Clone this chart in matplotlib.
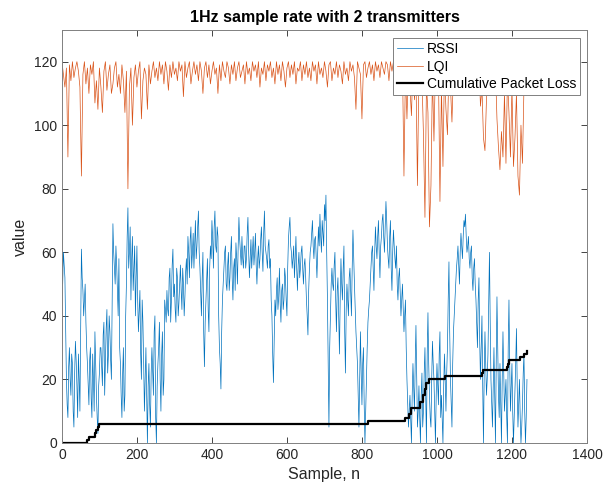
import numpy as np
import matplotlib.pyplot as plt

plt.rcParams['font.family'] = ['Liberation Sans', 'DejaVu Sans']

# RSSI: values at n = 0, 4, 8, ... 1240
rssi = [58, 60, 52,
        20, 8, 30, 15, 25, 5, 32, 18, 28, 10,
        61, 48, 45, 38,
        25, 12, 30, 8, 20, 35, 15, 3, 22,
        30, 18, 38, 25, 42, 28, 35, 20,
        69, 55, 62, 48, 58,
        25, 8, 30, 15,
        50, 74, 60, 45, 65, 55, 40, 62,
        35, 48, 20, 38, 10, 30, 0, 25, 5,
        30, 15, 40, 0, 25, 38, 10, 35, 20, 42,
        48, 40, 55, 45, 61, 50, 38, 52, 44, 56, 42, 50, 46,
        58, 65, 52, 68, 60, 55, 70, 62, 73,
        55, 40, 60, 24, 45, 58, 35,
        62, 70, 55, 73, 60, 65,
        30, 17, 45,
        55, 62, 48, 60, 52, 65, 45, 58, 63, 50, 71,
        60, 65, 55, 62, 58, 71, 52, 64, 60, 56, 66, 50, 62, 58, 68, 54, 73, 60, 55, 64, 58,
        40, 19, 45,
        48, 42, 55, 38, 50, 45, 52, 40,
        64, 71, 60,
        58, 52, 65, 48, 60, 55, 62, 50, 58, 45, 34,
        55, 62, 70, 58, 65, 52, 68, 72, 60, 66, 75, 78,
        45, 5, 40,
        55, 48, 60, 35, 52, 28, 58, 45, 62, 22, 50, 40, 55,
        40, 67, 50, 35,
        25, 5, 35, 12, 30, 0, 20, 38,
        45, 55, 62, 48, 68, 58, 70, 52, 65, 72, 60, 76, 62, 55, 70, 48, 67, 58, 62, 45, 55, 40, 50, 35, 45,
        20, 5, 15, 0, 25, 10, 37, 5, 18, 0, 22,
        10, 30, 0, 41, 15, 5, 32, 20, 0, 25, 12, 35,
        15, 0, 28, 10, 30, 57, 20, 5, 35, 45,
        55, 62, 50, 66, 58, 70, 72, 60, 65, 55, 62, 48, 58,
        45, 30, 52, 20, 40, 0, 35, 15, 28, 60,
        20, 5, 30, 0, 46, 15, 25, 0, 35, 10, 20, 0,
        45, 10, 25, 0, 15, 36, 5, 20, 0, 12, 28, 0, 20]

# RSSI at the samples in between: n = 2, 6, 10, ... 1238
rssi_mid = [50, 56, 35,
            12, 24, 20, 28, 10, 22, 26, 8, 20, 35,
            52, 40, 50, 30,
            18, 26, 14, 28, 10, 25, 8, 18, 30,
            24, 34, 15, 36, 22, 40, 26, 45,
            60, 50, 56, 40, 30,
            15, 22, 10, 40,
            65, 55, 68, 58, 48, 62, 52, 45,
            42, 28, 45, 25, 20, 15, 18, 12, 22,
            22, 35, 8, 18, 30, 20, 28, 15, 45, 38,
            42, 52, 38, 56, 46, 42, 55, 40, 50, 48, 55, 40, 54,
            50, 60, 64, 55, 66, 62, 58, 68, 60,
            48, 52, 35, 38, 52, 42, 55,
            58, 64, 68, 62, 68, 40,
            25, 35, 50,
            60, 50, 56, 48, 60, 52, 55, 48, 58, 62, 64,
            56, 58, 62, 55, 66, 60, 58, 55, 65, 60, 56, 58, 55, 64, 60, 66, 62, 58, 62, 55, 45,
            28, 32, 40,
            52, 46, 44, 48, 42, 55, 45, 55,
            68, 62, 55,
            62, 58, 55, 56, 52, 60, 55, 56, 52, 40, 48,
            60, 66, 62, 64, 58, 60, 62, 65, 70, 62, 70, 60,
            25, 30, 50,
            50, 56, 45, 48, 40, 45, 50, 55, 35, 42, 45, 52, 48,
            55, 58, 42, 30,
            15, 20, 22, 25, 12, 10, 30, 42,
            50, 60, 55, 60, 62, 65, 60, 62, 70, 65, 68, 70, 58, 65, 55, 60, 62, 55, 50, 52, 48, 45, 42, 40, 30,
            12, 10, 8, 15, 18, 25, 20, 10, 8, 15, 5,
            22, 15, 28, 25, 8, 20, 25, 10, 15, 18, 28, 8,
            8, 18, 20, 22, 45, 35, 12, 25, 40, 50,
            58, 56, 60, 62, 65, 68, 65, 62, 58, 60, 52, 55, 50,
            38, 45, 32, 30, 18, 22, 25, 20, 45, 38,
            12, 18, 15, 25, 30, 8, 12, 20, 22, 15, 8, 30,
            25, 18, 10, 8, 25, 18, 12, 8, 5, 22, 10, 8]

# LQI, one value every 4 samples
lqi_step = 4
lqi = [120, 116, 112, 118, 90, 119, 114, 120, 115, 118,
       120, 117, 112, 84, 116, 120, 113, 118, 110, 119,
       116, 120, 107, 114, 105, 118, 112, 104, 117, 120,
       111, 116, 119, 110, 113, 118, 120, 112, 116, 110,
       119, 114, 104, 117, 80, 112, 118, 100, 115, 119,
       112, 117, 120, 102, 114, 118, 116, 105, 119, 113,
       117, 120, 115,
       118, 114, 120, 116, 119, 113, 120, 117, 111, 119, 115, 120, 116, 118, 114, 120, 117, 119, 109, 120, 115, 118, 120, 113, 117,
       120, 116, 119, 114, 120, 117, 110, 118, 120, 115, 119, 113, 117, 120, 116, 118, 110, 119, 114, 120, 117, 115, 120, 118, 113,
       119, 116, 120, 114, 118, 120, 115, 117, 119, 113, 120, 116, 118, 114, 120, 117, 119, 115, 120, 112, 118, 116, 120, 114, 119,
       117, 120, 115, 118, 113, 120, 116, 119, 114, 120, 117, 112, 118, 120, 115, 119, 116, 120, 113, 118, 117, 120, 114, 119, 116,
       120, 115, 118, 114, 120, 117, 119, 113, 120, 116, 118, 115, 120, 117, 112, 119, 120, 114, 118, 116, 120, 115, 119, 117, 113,
       120, 116, 118, 114, 120, 117, 119, 115, 105, 120, 118, 116, 102, 119, 120, 115, 118, 120, 116, 119, 114, 120, 117, 119, 115,
       120, 118, 116, 120, 119, 114, 120, 117, 120, 115, 119, 120,
       118, 114, 120, 84, 117, 102, 119, 112, 103, 120,
       108, 116, 81, 118, 110, 115, 97, 71, 113, 104,
       68, 81, 116, 95, 119, 110, 117, 76, 112, 87,
       118, 105, 97, 119, 112, 101, 117, 120, 115, 120,
       118, 114, 120, 117, 120, 116, 120, 119, 113, 120,
       117, 120, 115, 120, 106, 112, 96, 92, 108, 118,
       120, 116, 120, 112, 118, 102, 93, 86, 98, 90,
       110, 88, 115, 104, 90, 112, 87, 96, 110, 84,
       78, 100, 88, 112, 118, 120]

# cumulative packet loss: sample where the count changes, and the new count
loss_n = [0, 68, 72, 88, 92, 96, 100, 817, 914, 925, 932, 955, 963, 968, 972, 978,
          1021, 1119, 1122, 1186, 1189, 1192, 1221, 1232, 1240]
loss_v = [0, 1, 2, 3, 4, 5, 6, 7, 8, 9, 11, 13, 15, 17, 19, 20,
          21, 22, 23, 24, 25, 26, 27, 28, 29]

# merge the two RSSI lists into one series sampled every 2
rssi_all = np.empty(len(rssi) + len(rssi_mid))
rssi_all[0::2] = rssi
rssi_all[1::2] = rssi_mid
x_rssi = np.arange(len(rssi_all)) * 2
x_lqi = np.arange(len(lqi)) * lqi_step

fig = plt.figure(figsize=(6.07, 4.90), dpi=100)
ax = fig.add_axes([0.102, 0.096, 0.865, 0.843])

ax.plot(x_rssi, rssi_all, color='#0072BD', lw=0.5, label='RSSI')
ax.plot(x_lqi, lqi, color='#D95319', lw=0.5, label='LQI')
ax.plot(loss_n, loss_v, color='black', lw=1.6, drawstyle='steps-post',
        label='Cumulative Packet Loss')

ax.set_xlim(0, 1400)
ax.set_ylim(0, 130)
ax.set_xticks(np.arange(0, 1401, 200))
ax.set_yticks(np.arange(0, 121, 20))

ax.set_title('1Hz sample rate with 2 transmitters', fontsize=11.5, fontweight='bold', pad=6)
ax.set_xlabel('Sample, n', fontsize=11.5, color='#262626')
ax.set_ylabel('value', fontsize=11.5, color='#262626')

ax.tick_params(direction='in', top=True, right=True, labelsize=10,
               colors='#262626', length=4, width=0.6)
for s in ax.spines.values():
    s.set_color('#808080')
    s.set_linewidth(0.7)

leg = ax.legend(loc='upper right', fontsize=10, fancybox=False, framealpha=1,
                edgecolor='#808080', handlelength=1.9, borderpad=0.3,
                labelspacing=0.25, handletextpad=0.25, borderaxespad=0,
                bbox_to_anchor=(0.987, 0.98))
leg.get_frame().set_linewidth(0.7)

fig.savefig('out.png', dpi=100)
